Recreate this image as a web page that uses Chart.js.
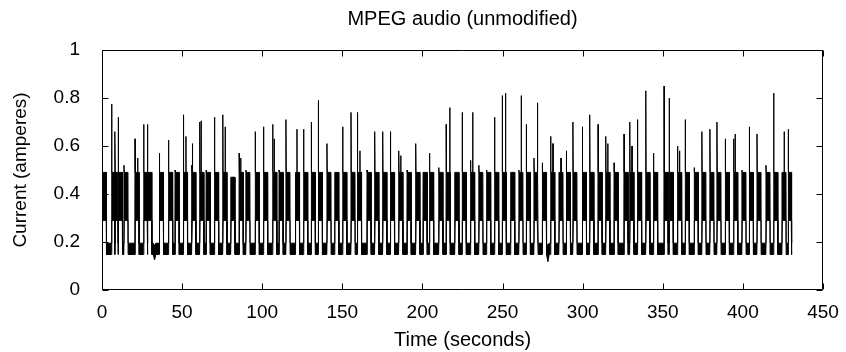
<!DOCTYPE html>
<html>
<head>
<meta charset="utf-8">
<script src="https://cdn.jsdelivr.net/npm/chart.js@4"></script>
<style>
  html, body { margin: 0; padding: 0; background: #fff; }
  canvas { display: block; }
</style>
</head>
<body>
<canvas id="trace" width="846" height="352"></canvas>
<script>
// burst start (s) and the spike height at the start of each burst (A)
const burstStart = [0.2, 6.0, 8.1, 10.2, 13.7, 20.6, 26.0, 28.5, 35.8, 41.5, 45.6, 50.8, 56.0, 61.0, 65.0, 70.2,
    75.4, 80.4, 85.6, 89.8, 95.6, 100.8, 106.5, 110.5, 114.8, 120.7, 125.8, 130.6, 135.0, 140.4, 145.2, 150.2,
    155.4, 159.4, 165.4, 170.2, 175.2, 180.0, 185.2, 190.4, 195.8, 200.4, 204.4, 210.2, 214.8, 220.2, 224.8,
    230.0, 235.2, 240.0, 245.0, 249.8, 255.0, 260.2, 264.8, 269.6, 274.8, 280.0, 285.2, 289.8, 293.9, 299.8,
    304.4, 309.6, 314.4, 319.6, 325.8, 329.4, 334.2, 339.4, 344.2, 350.8, 354.0, 359.2, 364.0, 369.6, 374.4,
    379.4, 383.8, 389.0, 394.2, 399.4, 404.0, 408.8, 414.4, 419.2, 424.4, 428.3];
const burstPeak = [0.51, 0.775, 0.66, 0.72, 0.52, 0.63, 0.69, 0.69, 0.57, 0.625, 0.50, 0.73, 0.52, 0.70, 0.50, 0.72,
    0.73, 0.47, 0.57, 0.50, 0.66, 0.68, 0.69, 0.50, 0.71, 0.49, 0.67, 0.70, 0.79, 0.61, 0.49, 0.68,
    0.74, 0.74, 0.50, 0.66, 0.66, 0.66, 0.58, 0.50, 0.61, 0.49, 0.57, 0.51, 0.69, 0.49, 0.74,
    0.54, 0.52, 0.50, 0.72, 0.81, 0.49, 0.50, 0.69, 0.55, 0.53, 0.64, 0.49, 0.58, 0.70, 0.68,
    0.73, 0.69, 0.64, 0.53, 0.65, 0.70, 0.71, 0.83, 0.57, 0.85, 0.80, 0.60, 0.71, 0.51, 0.66,
    0.67, 0.70, 0.63, 0.63, 0.50, 0.68, 0.65, 0.52, 0.82, 0.49, 0.67];

// second spikes inside a burst
const spikeTime = [22.3, 52.4, 56.5, 61.9, 76.9, 86.6, 107.5, 121.7, 161.0, 186.5, 217.1, 231.4, 251.9, 261.7,
    271.7, 281.5, 286.5, 315.7, 330.8, 360.5, 395.2, 425.8];
const spikeValue = [0.55, 0.64, 0.61, 0.705, 0.68, 0.55, 0.63, 0.67, 0.58, 0.56, 0.76, 0.74, 0.82, 0.81,
    0.78, 0.61, 0.55, 0.61, 0.60, 0.58, 0.65, 0.66];

// low dips of the idle current
const dipTime = [32.8, 278.3];
const dipValue = [0.125, 0.118];

// levels of the dense bands
const blockTop = 0.49, blockBottom = 0.29;
const baseTop = 0.195, baseBottom = 0.148;
const traceEnd = 430.5;

const xTicks = [0, 50, 100, 150, 200, 250, 300, 350, 400, 450];
const yTicks = [0, 0.2, 0.4, 0.6, 0.8, 1];

// envelope: [time, upper, lower]
let env = [[0, baseTop, baseBottom]];
for (let i = 0; i < burstStart.length; i++) {
    let t = burstStart[i];
    let next = i + 1 < burstStart.length ? burstStart[i + 1] : traceEnd;
    let d = Math.min(2.5, next - t - 0.3);
    let top = Math.min(blockTop, burstPeak[i]);
    if (t > 0.15) env.push([t - 0.1, baseTop, baseBottom]);
    env.push([t, burstPeak[i], baseBottom]);
    env.push([t + 0.2, top, blockBottom]);
    for (let k = 0; k < spikeTime.length; k++) {
        let s = spikeTime[k];
        if (s > t + 0.2 && s < t + d) {
            env.push([s - 0.05, top, blockBottom]);
            env.push([s, spikeValue[k], blockBottom]);
            env.push([s + 0.05, top, blockBottom]);
        }
    }
    env.push([t + d, top, blockBottom]);
    env.push([t + d + 0.1, baseTop, baseBottom]);
}
for (let k = 0; k < dipTime.length; k++) {
    env.push([dipTime[k] - 0.8, baseTop, baseBottom]);
    env.push([dipTime[k], baseTop - 0.01, dipValue[k]]);
    env.push([dipTime[k] + 0.8, baseTop, baseBottom]);
}
env.push([traceEnd, baseTop, baseBottom]);
env.sort((a, b) => a[0] - b[0]);

const upper = env.map(p => ({x: p[0], y: p[1]}));
const lower = env.map(p => ({x: p[0], y: p[2]}));

Chart.defaults.font.family = "'Liberation Sans', Arial, Helvetica, sans-serif";
Chart.defaults.color = "#000";

// gnuplot style box with inward ticks on all four sides
const frame = {
    id: 'frame',
    afterLayout(chart) {
        // centre the title over the plot box, not the whole canvas
        if (chart.titleBlock) {
            chart.titleBlock.left = chart.chartArea.left;
            chart.titleBlock.right = chart.chartArea.right;
        }
    },
    afterDatasetsDraw(chart) {
        const {ctx, chartArea: a, scales: {x, y}} = chart;
        const L = Math.round(a.left) + 0.5, R = Math.round(a.right) - 0.5;
        const T = Math.round(a.top) + 0.5, B = Math.round(a.bottom) - 0.5;
        ctx.save();
        ctx.strokeStyle = "#000";
        ctx.lineWidth = 1;
        ctx.beginPath();
        x.ticks.forEach(t => {
            let px = Math.round(x.getPixelForValue(t.value)) + 0.5;
            ctx.moveTo(px, B);
            ctx.lineTo(px, B - 6);
            ctx.moveTo(px, T);
            ctx.lineTo(px, T + 6);
        });
        y.ticks.forEach(t => {
            let py = Math.round(y.getPixelForValue(t.value)) + 0.5;
            ctx.moveTo(L, py);
            ctx.lineTo(L + 6, py);
            ctx.moveTo(R, py);
            ctx.lineTo(R - 6, py);
        });
        ctx.moveTo(L, T);
        ctx.lineTo(R, T);
        ctx.lineTo(R, B);
        ctx.lineTo(L, B);
        ctx.closePath();
        ctx.stroke();
        ctx.restore();
    }
};

new Chart(document.getElementById('trace'), {
    type: 'line',
    data: {
        datasets: [
            {
                label: "upper",
                data: upper,
                borderColor: "#000",
                backgroundColor: "#000",
                borderWidth: 1,
                pointRadius: 0,
                tension: 0,
                fill: '+1'
            },
            {
                label: "lower",
                data: lower,
                borderColor: "#000",
                borderWidth: 1,
                pointRadius: 0,
                tension: 0,
                fill: false
            }
        ]
    },
    options: {
        responsive: false,
        animation: false,
        devicePixelRatio: 1,
        layout: {
            padding: {left: 0, right: 23, top: 0, bottom: 0}
        },
        plugins: {
            legend: {display: false},
            tooltip: {enabled: false},
            title: {
                display: true,
                text: "MPEG audio (unmodified)",
                color: "#000",
                font: {size: 20, weight: 'normal'},
                padding: {top: 7, bottom: 19}
            }
        },
        scales: {
            x: {
                type: 'linear',
                min: 0,
                max: 450,
                afterBuildTicks: s => { s.ticks = xTicks.map(v => ({value: v})); },
                afterFit: s => { s.height = 62; },
                grid: {display: false},
                border: {display: false},
                ticks: {
                    font: {size: 19},
                    padding: 3,
                    maxRotation: 0,
                    autoSkip: false
                },
                title: {
                    display: true,
                    text: "Time (seconds)",
                    font: {size: 20},
                    padding: 0
                }
            },
            y: {
                min: 0,
                max: 1,
                afterBuildTicks: s => { s.ticks = yTicks.map(v => ({value: v})); },
                afterFit: s => { s.width = 102; },
                grid: {display: false},
                border: {display: false},
                ticks: {
                    font: {size: 19},
                    padding: 14,
                    callback: v => String(+v.toFixed(1))
                },
                title: {
                    display: true,
                    text: "Current (amperes)",
                    font: {size: 19},
                    padding: {top: 9, bottom: 0}
                }
            }
        }
    },
    plugins: [frame]
});
</script>
</body>
</html>
